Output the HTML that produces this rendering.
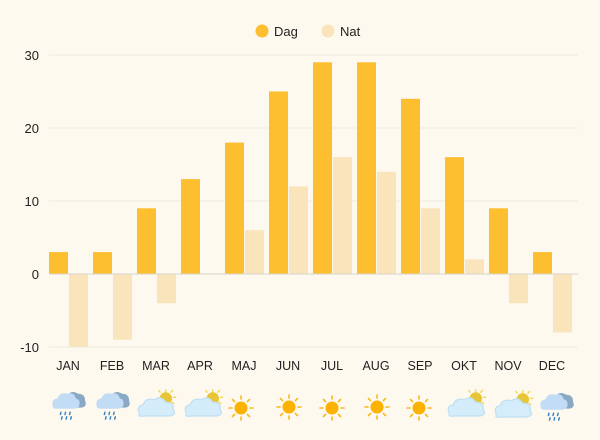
<!DOCTYPE html>
<html><head><meta charset="utf-8"><style>
html,body{margin:0;padding:0;background:#fef9ee;}
svg{display:block;font-family:"Liberation Sans",sans-serif;}
</style></head><body>
<svg width="600" height="440" viewBox="0 0 600 440">
<defs>
 <g id="sun">
  <g stroke="#f8b91c" stroke-width="1.6" stroke-linecap="round">
   <line x1="0" y1="-12" x2="0" y2="-9"/><line x1="0" y1="9" x2="0" y2="12"/>
   <line x1="-12" y1="0" x2="-9" y2="0"/><line x1="9" y1="0" x2="12" y2="0"/>
   <line x1="-8.5" y1="-8.5" x2="-6.4" y2="-6.4"/><line x1="6.4" y1="6.4" x2="8.5" y2="8.5"/>
   <line x1="-8.5" y1="8.5" x2="-6.4" y2="6.4"/><line x1="6.4" y1="-6.4" x2="8.5" y2="-8.5"/>
  </g>
  <circle r="6.5" fill="#fbb200"/>
 </g>
 <g id="csun0">
  <g stroke="#f3d34a" stroke-width="1" stroke-linecap="round">
   <line x1="7" y1="-13" x2="7" y2="-11"/><line x1="13" y1="-7" x2="15" y2="-7"/>
   <line x1="11" y1="-11" x2="12.5" y2="-12.5"/><line x1="2.5" y1="-11" x2="1.5" y2="-12.5"/>
   <line x1="12" y1="-3" x2="13.5" y2="-2"/>
  </g>
  <circle cx="7" cy="-6" r="5" fill="#e8c536"/>
  <path d="M-14,6 Q-17,0 -11,-1 Q-9,-7 -2,-5 Q3,-9 7,-3 Q14,-3 13,3 Q16,7 10,8 L-10,8 Q-16,9 -14,6Z" fill="#d5ecfa" stroke="#bfe0f5" stroke-width="1"/>
 </g>
 <g id="csun"><use href="#csun0" transform="scale(1.25)"/></g>
 <g id="rain0">
  <path d="M-2,-6 Q2,-12 8,-8 Q14,-8 14,-2 Q16,3 11,4 L0,4Z" fill="#8aa9c4"/>
  <path d="M-14,3 Q-16,-3 -10,-4 Q-8,-10 -1,-8 Q4,-10 6,-4 Q10,-3 9,2 Q8,5 4,5 L-11,5 Q-14,5 -14,3Z" fill="#c2dcf5"/>
  <g stroke="#3f86c6" stroke-width="1.3" stroke-linecap="round">
   <line x1="-7" y1="8" x2="-7.5" y2="10"/><line x1="-3" y1="8" x2="-3.5" y2="10"/><line x1="1" y1="8" x2="0.5" y2="10"/>
   <line x1="-6" y1="12" x2="-6.5" y2="14"/><line x1="-2" y1="12" x2="-2.5" y2="14"/><line x1="2" y1="12" x2="1.5" y2="14"/>
  </g>
 </g>
 <g id="rain"><use href="#rain0" transform="scale(1.15)"/></g>
</defs>
<rect width="600" height="440" fill="#fef9ee"/>
<circle cx="262" cy="31" r="6.5" fill="#fdbf30"/>
<text x="274" y="36" font-size="13" fill="#222">Dag</text>
<circle cx="328" cy="31" r="6.5" fill="#f9e4bb"/>
<text x="340" y="36" font-size="13" fill="#222">Nat</text>
<g stroke="#efebe0" stroke-width="1">
 <line x1="49" y1="55" x2="578" y2="55"/>
 <line x1="49" y1="128" x2="578" y2="128"/>
 <line x1="49" y1="201" x2="578" y2="201"/>
 <line x1="49" y1="347" x2="578" y2="347"/>
</g>
<g font-size="13" fill="#222" text-anchor="end">
 <text x="39" y="60">30</text><text x="39" y="133">20</text><text x="39" y="206">10</text>
 <text x="39" y="279">0</text><text x="39" y="352">-10</text>
</g>
<g fill="#fdbf30">
 <rect x="49" y="252.1" width="19" height="21.9"/>
 <rect x="93" y="252.1" width="19" height="21.9"/>
 <rect x="137" y="208.3" width="19" height="65.7"/>
 <rect x="181" y="179.1" width="19" height="94.9"/>
 <rect x="225" y="142.6" width="19" height="131.4"/>
 <rect x="269" y="91.5" width="19" height="182.5"/>
 <rect x="313" y="62.3" width="19" height="211.7"/>
 <rect x="357" y="62.3" width="19" height="211.7"/>
 <rect x="401" y="98.8" width="19" height="175.2"/>
 <rect x="445" y="157.2" width="19" height="116.8"/>
 <rect x="489" y="208.3" width="19" height="65.7"/>
 <rect x="533" y="252.1" width="19" height="21.9"/>
</g>
<g fill="#f9e4bb">
 <rect x="69" y="274" width="19" height="73"/>
 <rect x="113" y="274" width="19" height="65.7"/>
 <rect x="157" y="274" width="19" height="29.2"/>
 <rect x="245" y="230.2" width="19" height="43.8"/>
 <rect x="289" y="186.4" width="19" height="87.6"/>
 <rect x="333" y="157.2" width="19" height="116.8"/>
 <rect x="377" y="171.8" width="19" height="102.2"/>
 <rect x="421" y="208.3" width="19" height="65.7"/>
 <rect x="465" y="259.4" width="19" height="14.6"/>
 <rect x="509" y="274" width="19" height="29.2"/>
 <rect x="553" y="274" width="19" height="58.4"/>
</g>
<line x1="49" y1="274" x2="578" y2="274" stroke="#d8d4c8" stroke-width="1"/>
<g font-size="12.5" fill="#222" text-anchor="middle">
 <text x="68" y="370">JAN</text><text x="112" y="370">FEB</text><text x="156" y="370">MAR</text>
 <text x="200" y="370">APR</text><text x="244" y="370">MAJ</text><text x="288" y="370">JUN</text>
 <text x="332" y="370">JUL</text><text x="376" y="370">AUG</text><text x="420" y="370">SEP</text>
 <text x="464" y="370">OKT</text><text x="508" y="370">NOV</text><text x="552" y="370">DEC</text>
</g>
<use href="#rain" x="69" y="403"/>
<use href="#rain" x="113" y="403"/>
<use href="#csun" x="157" y="406"/>
<use href="#csun" x="204" y="406"/>
<use href="#sun" x="241" y="408"/>
<use href="#sun" x="289" y="407"/>
<use href="#sun" x="332" y="408"/>
<use href="#sun" x="377" y="407"/>
<use href="#sun" x="419" y="408"/>
<use href="#csun" x="467" y="406"/>
<use href="#csun" x="514" y="407"/>
<use href="#rain" x="557" y="404"/>
</svg>
</body></html>
